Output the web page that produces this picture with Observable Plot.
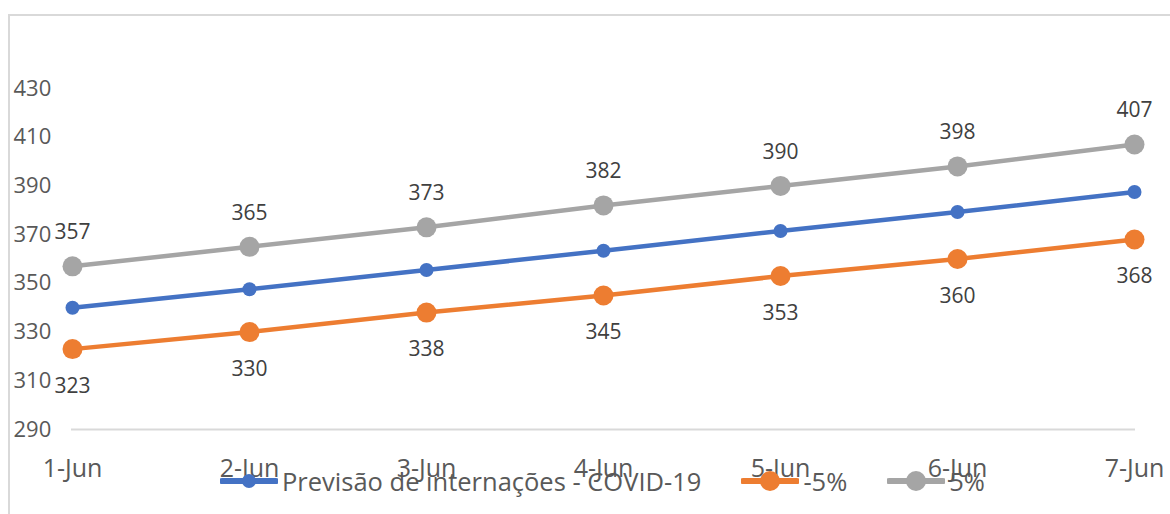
<!DOCTYPE html>
<html>
<head>
<meta charset="utf-8">
<script src="https://cdn.jsdelivr.net/npm/d3@7"></script>
<script src="https://cdn.jsdelivr.net/npm/@observablehq/plot@0.6"></script>
<style>
  html, body { margin: 0; padding: 0; background: #fff; }
  #wrap { position: relative; width: 1170px; height: 514px; overflow: hidden; font-family: "Open Sans", sans-serif; }
  #frame { position: absolute; left: 8px; top: 14px; width: 1200px; height: 600px; border: 2px solid #d9d9d9; box-sizing: border-box; }
  #chart { position: absolute; left: 0; top: 0; }
  #legend { position: absolute; left: 220px; top: 464px; display: flex; align-items: center; gap: 40px; font-size: 25.5px; color: #595959; }
  .item { display: flex; align-items: center; gap: 4px; }
</style>
</head>
<body>
<div id="wrap">
  <div id="frame"></div>
  <div id="chart"></div>
  <div id="legend"></div>
</div>
<script>
const days = ["1-Jun", "2-Jun", "3-Jun", "4-Jun", "5-Jun", "6-Jun", "7-Jun"];
const forecast = [340, 347.6, 355.5, 363.4, 371.5, 379.3, 387.5];
const minus5 = [323, 330, 338, 345, 353, 360, 368];
const plus5 = [357, 365, 373, 382, 390, 398, 407];
const yTicks = [290, 310, 330, 350, 370, 390, 410, 430];
const seriesNames = ["Previsão de internações - COVID-19", "-5%", "5%"];
const colors = ["#4472C4", "#ED7D31", "#A5A5A5"];
const markerR = [7, 10, 10];

const allSeries = [forecast, minus5, plus5];
const rows = allSeries.flatMap((vals, s) => vals.map((v, i) => ({day: days[i], value: v, series: seriesNames[s]})));
const blueRows = rows.filter(d => d.series === seriesNames[0]);
const orangeRows = rows.filter(d => d.series === seriesNames[1]);
const grayRows = rows.filter(d => d.series === seriesNames[2]);

const chart = Plot.plot({
  width: 1170,
  height: 514,
  marginLeft: 71,
  marginRight: 35,
  marginTop: 88,
  marginBottom: 85,
  style: {fontFamily: "'Open Sans', sans-serif", background: "transparent"},
  x: {type: "point", domain: days, padding: 0},
  y: {domain: [290, 430]},
  color: {domain: seriesNames, range: colors},
  marks: [
    Plot.ruleY([290], {stroke: "#d9d9d9", strokeWidth: 2}),
    Plot.axisY({ticks: yTicks, tickSize: 0, tickPadding: 58, textAnchor: "start", fontSize: 22, fill: "#595959", label: null}),
    Plot.axisX({tickSize: 0, tickPadding: 30, fontSize: 25, fill: "#595959", label: null}),
    Plot.line(rows, {x: "day", y: "value", z: "series", stroke: "series", strokeWidth: 4.5}),
    Plot.dot(grayRows, {x: "day", y: "value", r: markerR[2], fill: colors[2]}),
    Plot.dot(orangeRows, {x: "day", y: "value", r: markerR[1], fill: colors[1]}),
    Plot.dot(blueRows, {x: "day", y: "value", r: markerR[0], fill: colors[0]}),
    Plot.text(grayRows, {x: "day", y: "value", text: d => String(d.value), dy: -34, fontSize: 21, fill: "#404040"}),
    Plot.text(orangeRows, {x: "day", y: "value", text: d => String(d.value), dy: 37, fontSize: 21, fill: "#404040"})
  ]
});
document.getElementById("chart").appendChild(chart);

const legend = document.getElementById("legend");
seriesNames.forEach((name, i) => {
  const item = document.createElement("div");
  item.className = "item";
  item.innerHTML = `<svg width="58" height="24"><line x1="2" x2="56" y1="12" y2="12" stroke="${colors[i]}" stroke-width="6" stroke-linecap="round"/><circle cx="29" cy="12" r="${markerR[i]}" fill="${colors[i]}"/></svg><span>${name}</span>`;
  legend.appendChild(item);
});
</script>
</body>
</html>
